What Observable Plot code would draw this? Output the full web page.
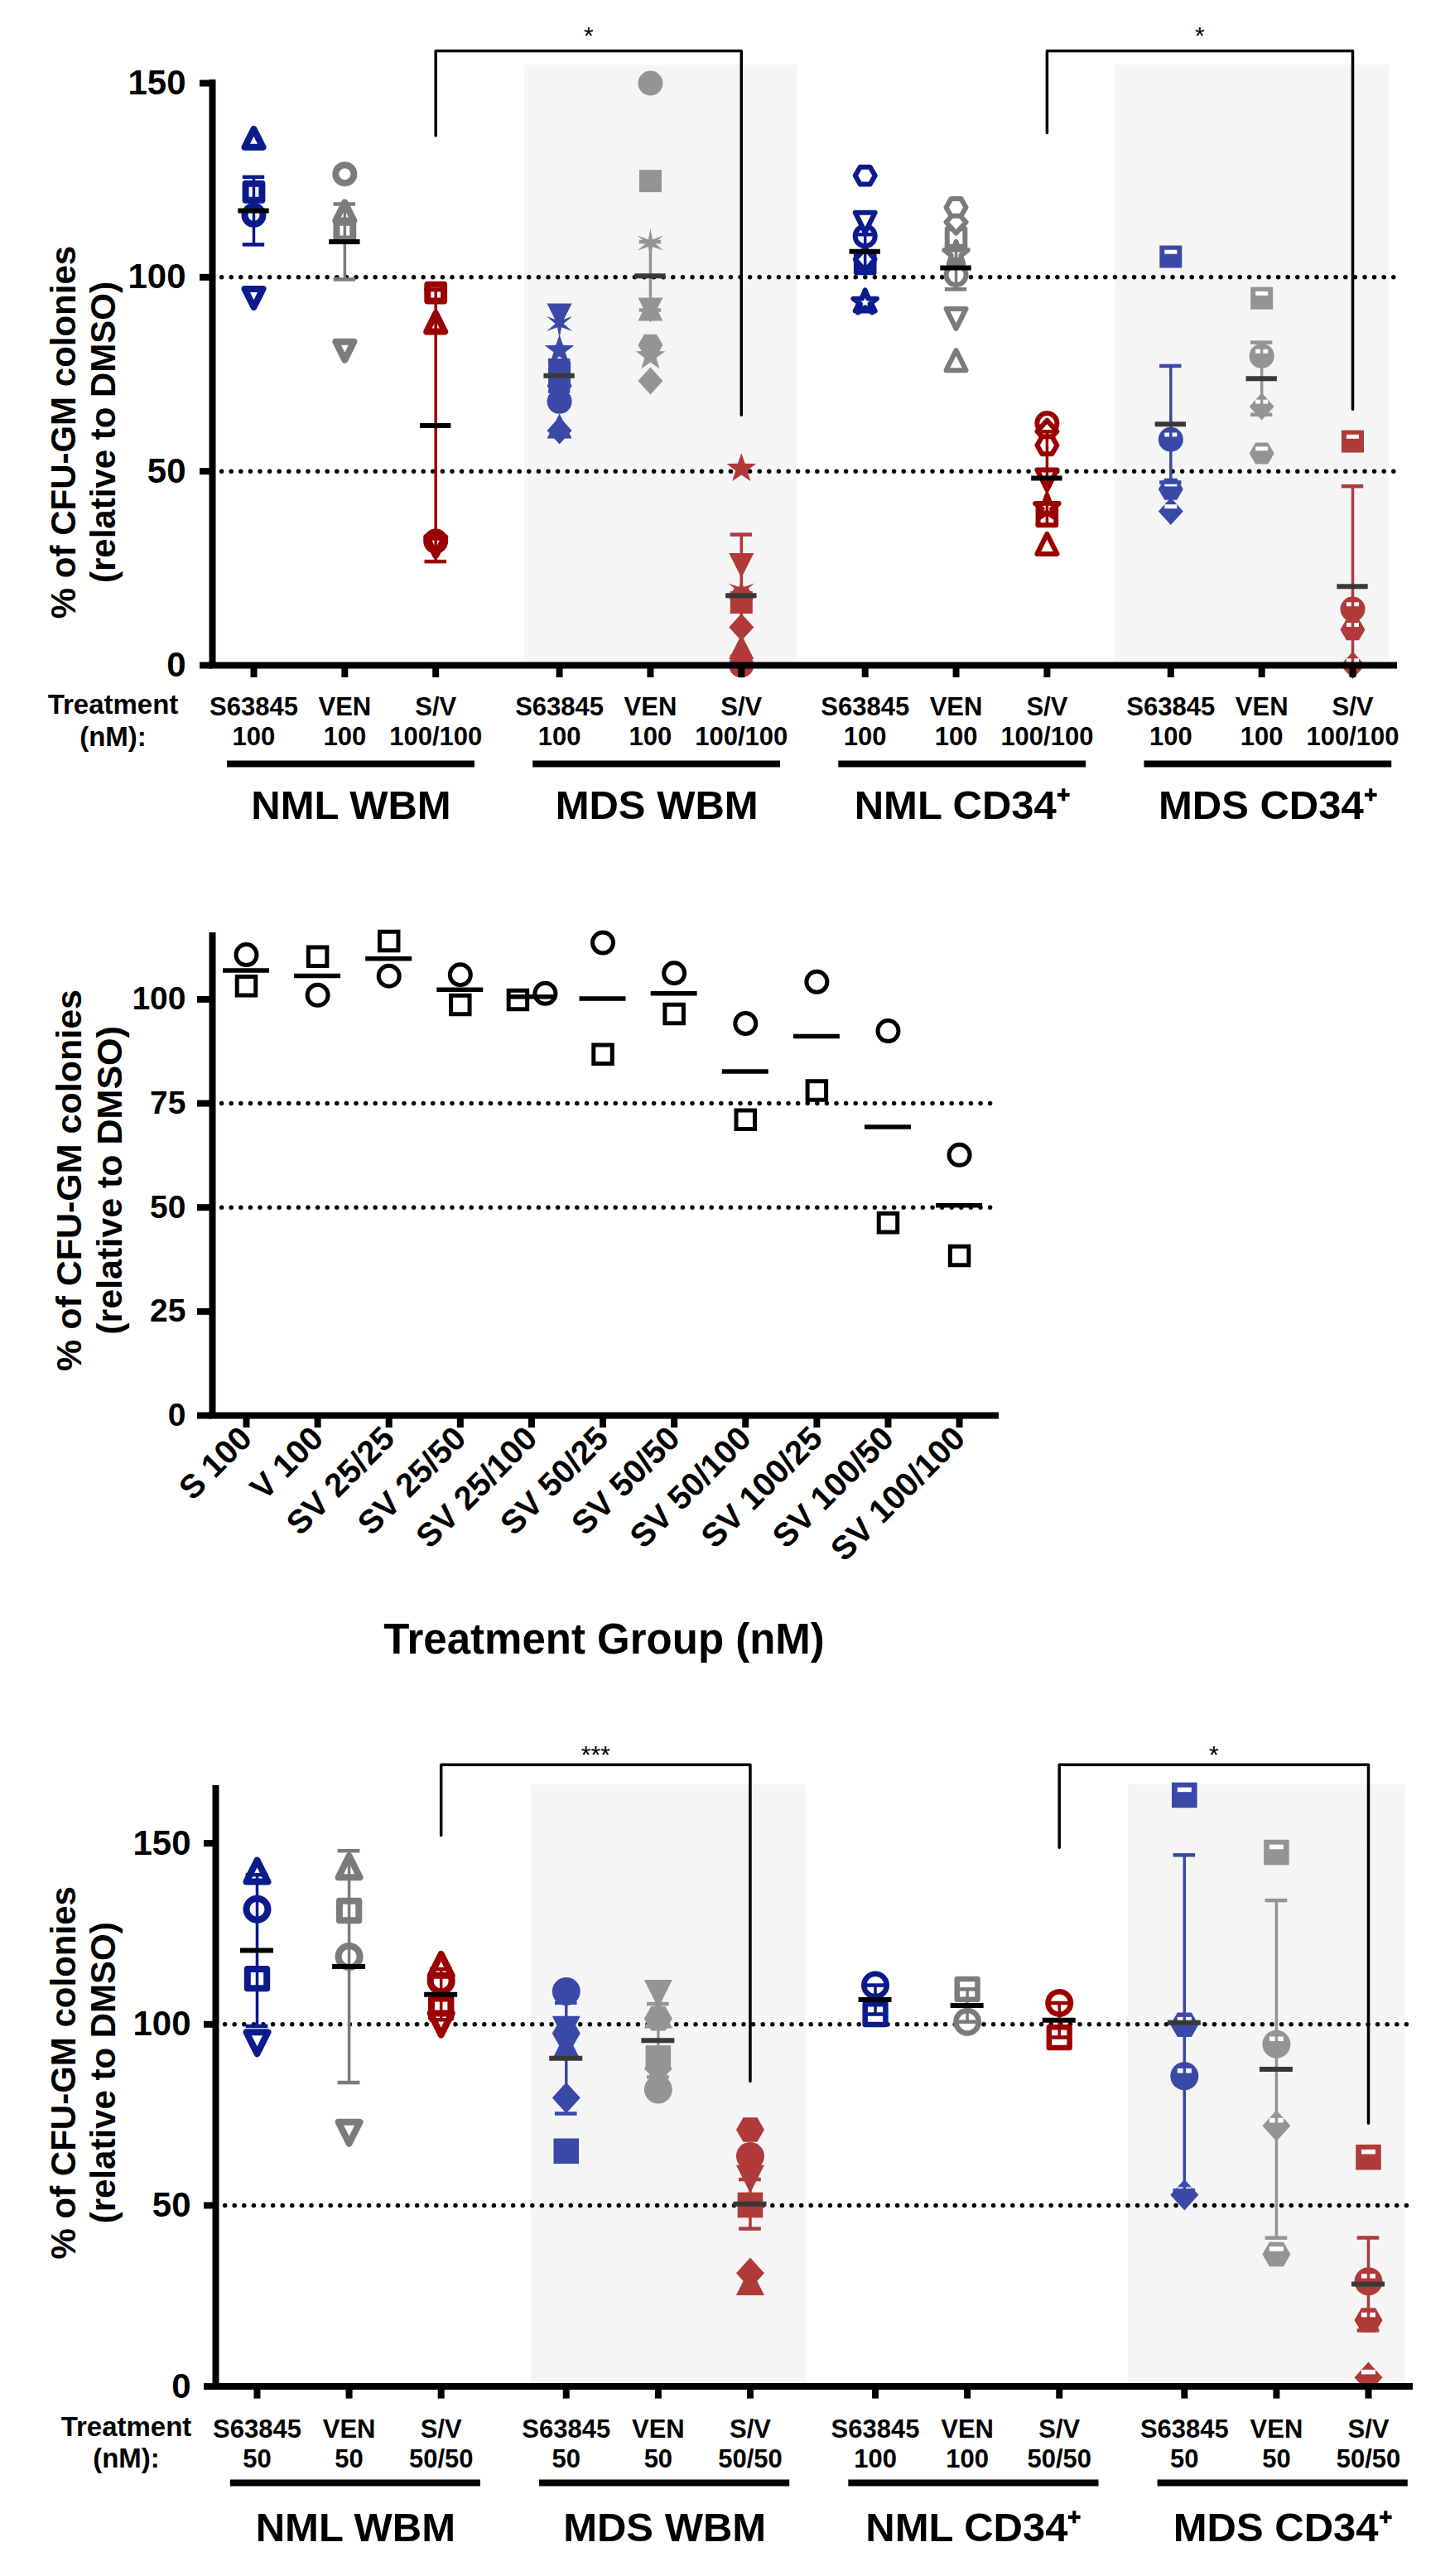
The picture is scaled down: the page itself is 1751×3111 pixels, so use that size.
<!DOCTYPE html>
<html><head><meta charset="utf-8">
<script src="https://cdn.jsdelivr.net/npm/d3@7"></script>
<script src="https://cdn.jsdelivr.net/npm/@observablehq/plot@0.6"></script>
<style>
html,body{margin:0;padding:0;background:#fff;}
#wrap{position:relative;width:1751px;height:3111px;overflow:hidden;background:#fff;}
#wrap svg{position:absolute;left:0;}
</style></head><body><div id="wrap"></div>
<script>
// ================= DATA =================
const groupNames = ["NML WBM", "MDS WBM", "NML CD34\u207A", "MDS CD34\u207A"];
const treatments = ["S63845", "VEN", "S/V"];

// ---- Panel A (top) ----
const dosesA = [["100","100","100/100"],["100","100","100/100"],["100","100","100/100"],["100","100","100/100"]];
const donorsA = [
  ["triangle","square","circle","triangleDown"],
  ["circle","square","triangle","triangleDown","diamond","hexagon","star","asterisk"],
  ["circle","square","triangle","triangleDown","diamond","hexagon","star"],
  ["square","circle","hexagon","diamond"]
];
const valuesA = [
  [[135.5,122,116,95],[116.6,112,126.6,81.4],[88,96,32,31]],
  [[68,75.4,61.2,90.5,60.5,72,81.2,88],[150,124.8,91.5,92,73.3,82.5,79.7,108.8],[0,16.2,4.3,26.2,9.8,17.5,50.7,19.2]],
  [[110.6,103.5,93.5,114.5,104.6,126.2,93.5],[100.6,110.2,78.2,89.7,114.2,118,106],[62.4,38.4,30.9,48.2,60.3,56.7,40.7]],
  [[105.3,58.2,45.4,39.7],[94.6,79.7,54.6,66.7],[57.7,14.5,9.2,0]]
];
const errA = [[8.7,9.7,35],[4.0,8.8,15.7],[4.4,5.5,12],[15,9.3,25.8]];
const yTicksA = [0,50,100,150];
const refLinesA = [100,50];
const bracketFromA = [[0,2],[2,2]];
const bracketToA = [[1,2],[3,2]];
const bracketLegsA = [[136.5,64.5],[137.2,66]];
const bracketTopA = [158.3,158.3];
const bracketLabelA = ["*","*"];

// ---- Panel B (middle) ----
const groupsB = ["S 100","V 100","SV 25/25","SV 25/50","SV 25/100","SV 50/25","SV 50/50","SV 50/100","SV 100/25","SV 100/50","SV 100/100"];
const circleB = [110.7,101,105.6,105.9,101.4,113.6,106.3,94.2,104.2,92.4,62.6];
const squareB = [103.2,110.3,114,98.7,99.9,86.8,96.5,71.1,78.1,46.3,38.4];
const yTicksB = [0,25,50,75,100];
const refLinesB = [75,50];

// ---- Panel C (bottom) ----
const dosesC = [["50","50","50/50"],["50","50","50/50"],["100","100","50/50"],["50","50","50/50"]];
const donorsC = [
  ["triangle","circle","square","triangleDown"],
  ["circle","triangleDown","hexagon","triangle","diamond","square"],
  ["circle","square"],
  ["square","hexagon","circle","diamond"]
];
const valuesC = [
  [[141.9,131.8,112.6,95.3],[143.1,118.7,131.4,70.5],[116,112,104.5,100.5]],
  [[109.1,99,97.5,93.6,79.7,65],[82,109,101.6,102.2,87.8,90.7],[63.6,57.8,70.9,28.5,31.3,50.1]],
  [[110.8,102.8],[100.7,109.7],[105.9,96.4]],
  [[163.3,99.9,85.7,52.9],[147.5,36.5,94.5,72],[63.3,18.3,29,2.5]]
];
const errC = [[20.9,32,7],[15.3,10.1,6.8],[4,4.5,4.75],[46.3,46.6,12.8]];
const yTicksC = [0,50,100,150];
const refLinesC = [100,50];
const bracketFromC = [[0,2],[2,2]];
const bracketToC = [[1,2],[3,2]];
const bracketLegsC = [[152.2,84.3],[148.8,72.7]];
const bracketTopC = [171.7,171.7];
const bracketLabelC = ["***","*"];

// ================= STYLE =================
const W = 1751;
const FONT = "'Liberation Sans', Arial, Helvetica, sans-serif";
const STEP = 3.36;                       // group spacing in category units
const colorsNML = ["#0b1b8c","#7b7b7b","#9b0000"];
const colorsMDS = ["#3a48a8","#949494","#b03a3a"];
const meanNML = "#000000", meanMDS = "#383838";
const shadeFill = "#f5f5f5";
const pos = (g, t) => g * STEP + t;

// ---- symbols ----
const Rs = s => Math.sqrt(s / Math.PI);
function polySym(p) {
  return {draw(c, s) { const r = Rs(s); c.moveTo(p[0][0]*r, p[0][1]*r); for (let i = 1; i < p.length; i++) c.lineTo(p[i][0]*r, p[i][1]*r); c.closePath(); }};
}
const starPts = (n, ro, ri) => d3.range(2*n).map(i => { const a = -Math.PI/2 + i*Math.PI/n; const rr = i % 2 ? ri : ro; return [rr*Math.cos(a), rr*Math.sin(a)]; });
const SYM = {
  circle: {draw(c, s) { const r = Rs(s); c.moveTo(r, 0); c.arc(0, 0, r, 0, 2*Math.PI); c.closePath(); }},
  square: polySym([[-0.9,-0.9],[0.9,-0.9],[0.9,0.9],[-0.9,0.9]]),
  triangle: polySym([[0,-1.15],[1.0,0.85],[-1.0,0.85]]),
  triangleDown: polySym([[0,1.15],[1.0,-0.85],[-1.0,-0.85]]),
  diamond: polySym([[0,-1.1],[1.0,0],[0,1.1],[-1.0,0]]),
  hexagon: polySym(d3.range(6).map(i => [Math.cos(i*Math.PI/3), Math.sin(i*Math.PI/3)])),
  star: polySym(starPts(5, 1.25, 0.5)),
  asterisk: polySym(starPts(6, 1.2, 0.33))
};
const BAND = {draw(c, s) { const r = Rs(s); c.moveTo(-0.5*r,-0.55*r); c.lineTo(0.5*r,-0.55*r); c.lineTo(0.5*r,-0.22*r); c.lineTo(-0.5*r,-0.22*r); c.closePath(); }};
const shapeNames = Object.keys(SYM);

// ================= PANEL BUILDER (A and C) =================
function groupPanel(cfg) {
  const pts = [], cols = [];
  cfg.values.forEach((gv, g) => gv.forEach((tv, t) => {
    const x = pos(g, t);
    const color = (g % 2 ? colorsMDS : colorsNML)[t];
    tv.forEach((v, i) => pts.push({x, v, g, t, shape: cfg.donors[g][i], color}));
    cols.push({x, g, t, color, mean: d3.mean(tv), err: cfg.errs[g][t],
               label: treatments[t] + "\n" + cfg.doses[g][t]});
  }));
  const groups = groupNames.map((name, g) => ({name, x: (pos(g,0) + pos(g,2)) / 2 + 0.07}));
  const shades = [
    {x1: pos(1,0) - 0.38, x2: pos(1,2) + 0.61},
    {x1: pos(3,0) - 0.61, x2: pos(3,2) + 0.40}
  ];
  const brPts = [], brLab = [];
  cfg.bFrom.forEach((f, k) => {
    const xa = pos(...f), xb = pos(...cfg.bTo[k]), top = cfg.bTop[k];
    brPts.push({k, x: xa, y: cfg.bLegs[k][0]}, {k, x: xa, y: top}, {k, x: xb, y: top}, {k, x: xb, y: cfg.bLegs[k][1]});
    brLab.push({x: (xa + xb) / 2, y: top + cfg.starOff, text: cfg.bLabel[k]});
  });

  const styles = [
    {fill: "white", sw: 8, rr: cfg.r - 4},      // NML WBM: thick outlined
    {fill: "color", sw: 0, rr: cfg.r},          // MDS WBM: filled
    {fill: "white", sw: cfg.openSW, rr: cfg.r - cfg.openSW/2}, // NML CD34: open
    {fill: "color", sw: 0, rr: cfg.r, band: true} // MDS CD34: filled with band
  ];
  const pointMarks = [];
  styles.forEach((st, g) => {
    shapeNames.forEach(s => {
      const sub = pts.filter(p => p.g === g && p.shape === s);
      if (!sub.length) return;
      pointMarks.push(Plot.dot(sub, {
        x: "x", y: "v", r: st.rr, symbol: SYM[s],
        fill: st.fill === "white" ? "white" : d => d.color,
        stroke: st.sw ? d => d.color : "none",
        strokeWidth: st.sw || 0, strokeLinejoin: "round"
      }));
      if (st.band) pointMarks.push(Plot.dot(sub, {x: "x", y: "v", r: st.rr, symbol: BAND, fill: "white", stroke: "none"}));
    });
  });

  const lowVal = d => Math.max(0, d.mean - d.err);
  return Plot.plot({
    width: W, height: cfg.height,
    marginLeft: cfg.mL, marginRight: cfg.mR, marginTop: cfg.mT, marginBottom: cfg.mB,
    x: {type: "linear", domain: cfg.xDomain, axis: null},
    y: {type: "linear", domain: [0, cfg.yMax], axis: null},
    style: {fontFamily: FONT, background: "none", overflow: "visible", color: "#000"},
    marks: [
      Plot.rect(shades, {x1: "x1", x2: "x2", y1: () => 0, y2: () => cfg.shadeTop, fill: shadeFill}),
      Plot.ruleY(cfg.refLines, {stroke: "#000", strokeWidth: 5.5, strokeDasharray: "0 11.6", strokeLinecap: "round"}),
      Plot.line(brPts, {x: "x", y: "y", z: "k", stroke: "#000", strokeWidth: 3.5}),
      Plot.text(brLab, {x: "x", y: "y", text: "text", fontSize: 30, fill: "#000"}),
      ...pointMarks,
      // error bars
      Plot.ruleX(cols, {x: "x", y1: lowVal, y2: d => d.mean + d.err, stroke: "color", strokeWidth: 3.5}),
      Plot.ruleY(cols, {y: d => d.mean + d.err, x1: d => d.x - 0.12, x2: d => d.x + 0.12, stroke: "color", strokeWidth: 4.5}),
      Plot.ruleY(cols.filter(d => d.mean - d.err > 0), {y: d => d.mean - d.err, x1: d => d.x - 0.12, x2: d => d.x + 0.12, stroke: "color", strokeWidth: 4.5}),
      // means
      Plot.ruleY(cols, {y: "mean", x1: d => d.x - cfg.meanHalf, x2: d => d.x + cfg.meanHalf,
                        stroke: d => d.g % 2 ? meanMDS : meanNML, strokeWidth: 6}),
      // axes
      Plot.ruleY([0], {x1: () => cfg.xDomain[0], x2: () => cfg.xDomain[1], stroke: "#000", strokeWidth: 8, strokeLinecap: "square"}),
      Plot.ruleX([cfg.xDomain[0]], {x: d => d, y1: () => 0, y2: () => cfg.yMax, stroke: "#000", strokeWidth: 8, strokeLinecap: "square"}),
      Plot.axisY(cfg.yTicks, {tickSize: cfg.tickY, tickPadding: cfg.padY, strokeWidth: 8, fontSize: 42, fontWeight: "bold", fill: "#000", label: null}),
      Plot.axisX(cols.map(d => d.x), {tickSize: 15, strokeWidth: 8, tickFormat: () => "", label: null}),
      // category labels
      Plot.text(cols, {x: "x", y: () => 0, dy: cfg.labDy, text: "label", fontSize: 31, fontWeight: "bold", lineHeight: 1.16, lineAnchor: "middle", fill: "#000"}),
      Plot.text(["Treatment\n(nM):"], {frameAnchor: "bottom-left", textAnchor: "middle", dx: cfg.treatDx, dy: cfg.treatDy, fontSize: 33, fontWeight: "bold", lineHeight: 1.18, lineAnchor: "middle", fill: "#000"}),
      Plot.ruleY(groups, {y: () => 0, x1: d => d.x - 1.36, x2: d => d.x + 1.36, dy: cfg.ulDy, stroke: "#000", strokeWidth: 8}),
      Plot.text(groups, {x: "x", y: () => 0, dy: cfg.grpDy, text: "name", fontSize: 49, fontWeight: "bold", lineAnchor: "middle", fill: "#000"}),
      Plot.text(["% of CFU-GM colonies\n(relative to DMSO)"], {frameAnchor: "left", textAnchor: "middle", rotate: -90, dx: cfg.titleDx, dy: cfg.titleDy, fontSize: 42, fontWeight: "bold", lineHeight: 1.14, lineAnchor: "middle", fill: "#000"})
    ]
  });
}

// ================= PANEL A =================
const svgA = groupPanel({
  values: valuesA, donors: donorsA, errs: errA, doses: dosesA,
  height: 1040, mL: 256, mR: 68, mT: 100, mB: 237,
  xDomain: [-0.455, 12.535], yMax: 150, yTicks: yTicksA, refLines: refLinesA,
  shadeTop: 154.7, r: 15, openSW: 6, meanHalf: 0.17,
  bFrom: bracketFromA, bTo: bracketToA, bLegs: bracketLegsA, bTop: bracketTopA, bLabel: bracketLabelA, starOff: 3.8,
  tickY: 15, padY: 17, labDy: 67, treatDx: -120, treatDy: 65.5, ulDy: 119, grpDy: 170,
  titleDx: -157, titleDy: 70
});
svgA.style.top = "0px";

// ================= PANEL C =================
const svgC = groupPanel({
  values: valuesC, donors: donorsC, errs: errC, doses: dosesC,
  height: 1091, mL: 260, mR: 49, mT: 140, mB: 229.4,
  xDomain: [-0.45, 12.53], yMax: 165, yTicks: yTicksC, refLines: refLinesC,
  shadeTop: 166.2, r: 17, openSW: 6.5, meanHalf: 0.18,
  bFrom: bracketFromC, bTo: bracketToC, bLegs: bracketLegsC, bTop: bracketTopC, bLabel: bracketLabelC, starOff: 2.8,
  tickY: 14, padY: 16, labDy: 68, treatDx: -108, treatDy: 66.4, ulDy: 116.4, grpDy: 171.4,
  titleDx: -161, titleDy: -18
});
svgC.style.top = "2020px";

// ================= PANEL B =================
const idxB = d3.range(groupsB.length);
const ptsB = [];
idxB.forEach(i => {
  const near = Math.abs(circleB[i] - squareB[i]) < 5;
  ptsB.push({i, v: circleB[i], shape: "circle", side: near ? 1 : 0});
  ptsB.push({i, v: squareB[i], shape: "square", side: near ? -1 : 0});
});
const meansB = idxB.map(i => ({i, mean: d3.mean([circleB[i], squareB[i]])}));
const xDomB = [-0.476, 10.51];
const dotB = (filterFn, dx) => shapeNames.filter(s => s === "circle" || s === "square").map(s =>
  Plot.dot(ptsB.filter(p => p.shape === s && filterFn(p)), {x: "i", y: "v", r: 12.5, symbol: SYM[s], fill: "white", stroke: "#000", strokeWidth: 5, dx}));
const svgB = Plot.plot({
  width: W, height: 980, marginLeft: 256, marginRight: W - 1202, marginTop: 90, marginBottom: 311,
  x: {type: "linear", domain: xDomB, axis: null},
  y: {type: "linear", domain: [0, 115.2], axis: null},
  style: {fontFamily: FONT, background: "none", overflow: "visible", color: "#000"},
  marks: [
    Plot.ruleY(refLinesB, {stroke: "#000", strokeWidth: 5.5, strokeDasharray: "0 11.6", strokeLinecap: "round"}),
    ...dotB(p => p.side === 0, 0),
    ...dotB(p => p.side === 1, 16.5),
    ...dotB(p => p.side === -1, -16.5),
    Plot.ruleY(meansB, {y: "mean", x1: d => d.i - 0.325, x2: d => d.i + 0.325, stroke: "#000", strokeWidth: 5.5}),
    Plot.ruleY([0], {x1: () => xDomB[0], x2: () => xDomB[1], stroke: "#000", strokeWidth: 8, strokeLinecap: "square"}),
    Plot.ruleX([xDomB[0]], {x: d => d, y1: () => 0, y2: () => 115.2, stroke: "#000", strokeWidth: 8, strokeLinecap: "square"}),
    Plot.axisY(yTicksB, {tickSize: 18, tickPadding: 14, strokeWidth: 8, fontSize: 39, fontWeight: "bold", fill: "#000", label: null}),
    Plot.axisX(idxB, {tickSize: 15, strokeWidth: 8, tickFormat: i => groupsB[i], tickRotate: -45, tickPadding: 6, fontSize: 40, fontWeight: "bold", fill: "#000", label: null}),
    Plot.text(["Treatment Group (nM)"], {frameAnchor: "bottom", dy: 271, fontSize: 51, fontWeight: "bold", lineAnchor: "middle", fill: "#000"}),
    Plot.text(["% of CFU-GM colonies\n(relative to DMSO)"], {frameAnchor: "left", textAnchor: "middle", rotate: -90, dx: -150, dy: 5.5, fontSize: 43, fontWeight: "bold", lineHeight: 1.14, lineAnchor: "middle", fill: "#000"})
  ]
});
svgB.style.top = "1040px";

const wrap = document.getElementById("wrap");
wrap.append(svgA, svgB, svgC);
</script></body></html>
